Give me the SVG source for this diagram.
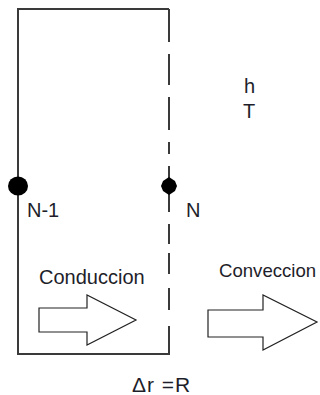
<svg xmlns="http://www.w3.org/2000/svg" width="320" height="395" viewBox="0 0 320 395">
<style>
.frame{fill:none;stroke:#3a3a3a;stroke-width:2}
.arrow{fill:#fff;stroke:#222;stroke-width:1.2}
.lbl{font-family:"Liberation Sans",Arial,sans-serif;font-size:20px;fill:#1e1e2a}
</style>
<rect width="320" height="395" fill="#fff"/>
<g id="wall">
<polyline class="frame" points="169,9 18,9 18,354 170,354"/>
</g>
<g id="connectors">
<path class="frame" d="M169,9V42 M169,54V85 M169,97V130 M169,142V154 M169,166V212 M169,224V244 M169,253V274 M169,288V310 M169,326V355"/>
</g>
<g id="node-N-1">
<ellipse cx="18" cy="186" rx="10" ry="9.5" fill="#000"/>
<text class="lbl" x="27" y="217">N-1</text>
</g>
<g id="node-N">
<polygon points="169,177 175,181 177,186 175,191 169,195 163,191 161,186 163,181" fill="#000"/>
<text class="lbl" x="186" y="217">N</text>
</g>
<g id="ambient">
<text class="lbl" x="244" y="93">h</text>
<text class="lbl" x="243" y="118">T</text>
</g>
<g id="conduccion">
<text class="lbl" x="39" y="284">Conduccion</text>
<polygon class="arrow" points="39,308 87,308 87,295 136,320 87,345 87,332 39,332"/>
</g>
<g id="conveccion">
<text class="lbl" x="219" y="277" style="font-size:18.6px">Conveccion</text>
<polygon class="arrow" points="208,310 263,310 263,295 317,322 263,350 263,337 208,337"/>
</g>
<g id="delta">
<text class="lbl" x="132" y="392" style="font-size:21px;letter-spacing:1px">Δr =R</text>
</g>
</svg>
